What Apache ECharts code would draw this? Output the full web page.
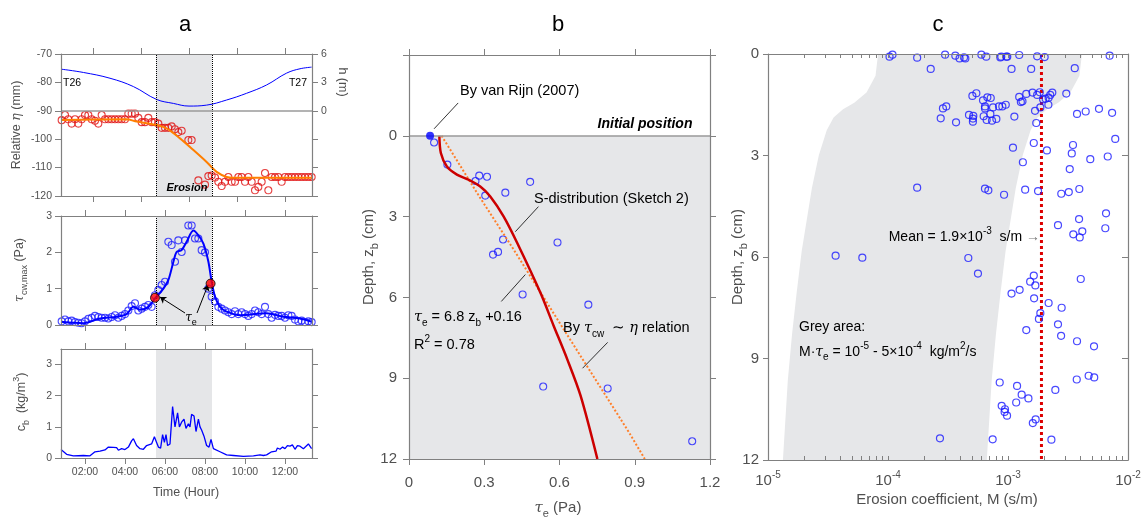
<!DOCTYPE html>
<html>
<head>
<meta charset="utf-8">
<script src="https://cdn.jsdelivr.net/npm/echarts@6.0.0/dist/echarts.min.js"></script>
<style>
html,body{margin:0;padding:0;background:#fff}
#chart{width:1143px;height:518px}
</style>
</head>
<body>
<div id="chart"></div>
<script>
// ---------- panel a : tide, bed level, bed shear stress, concentration ----------
// measurement grid: every 10 min from 00:50 (hours)
var tGrid = [];
for (var i = 0; i < 76; i++) tGrid.push((50 + 10 * i) / 60);

// water depth h (m)
var tideT = [0.8, 1.92, 3.25, 4.42, 5.58, 6.42, 7.2, 8.08, 9.08, 10.08, 11.08, 12.08, 12.75, 13.33];
var tideH = [4.40, 4.05, 3.44, 2.56, 1.20, 0.78, 0.50, 0.60, 1.14, 1.85, 2.73, 3.98, 4.44, 4.61];

// relative bed level eta (mm), null = no data
var etaVals = [-93.3,-91.5,-93,-94.5,-93,-94.5,-93,-91.5,-91.5,-93,
  -93.5,-94.5,-91.5,-93,-93,-93,-93,-93,-93,-93,
  -91,-91,-91,-92.5,-94,-94,-92.5,-94,-94,-94.5,
  -96,-96,-96,-95.5,-96.5,-97.5,-97,null,-100.3,-100.3,
  null,-114.5,null,-116,-113,-112.8,-113.5,-115,-116.5,-115,
  -113.3,-115,-115,-113.3,-113.3,-115,-113.3,-115,-118,-116.8,
  -115,-111.9,-118,-113.3,-113.3,-113.3,-115,-113.3,-113.3,-113.3,
  -113.3,-113.3,-113.3,-113.3,-113.3,-113.3];
// smoothed bed level (orange)
var etaFitT = [0.8, 4.08, 4.58, 5.58, 6.08, 6.75, 7.42, 8.08, 8.58, 9.08, 9.42, 13.33];
var etaFitV = [-93.2, -93, -93.8, -95, -96.2, -99.7, -103.8, -108, -111.5, -113.3, -113.6, -113.6];

// tau_cw,max (Pa)
var tauVals = [0.1,0.15,0.1,0.12,0.08,0.06,0.05,0.1,0.17,0.2,
  0.25,0.22,0.2,0.2,0.18,0.22,0.27,0.2,0.25,0.3,
  0.4,0.52,0.6,0.4,0.45,0.5,0.55,0.5,
  0.82,0.96,1.1,1.19,2.29,2.2,1.74,2.33,2.01,2.33,2.74,2.74,2.38,2.38,2.06,2.0,1.0,0.78,0.65,0.5,
  0.45,0.4,0.35,0.3,0.38,0.3,0.35,0.3,0.25,0.3,0.4,0.35,0.3,0.5,0.3,0.2,0.28,0.25,0.25,0.2,0.27,0.25,
  0.15,0.1,0.12,0.08,0.1,0.08];
var tauLineT = [0.8,1.92,2.75,3.58,4.08,4.42,4.75,5.17,5.5,5.92,6.17,6.42,6.58,6.83,7.08,7.42,7.67,7.92,8.17,8.33,8.5,8.75,9.08,9.75,11.08,11.92,12.75,13.33];
var tauLineV = [0.09,0.05,0.18,0.23,0.3,0.5,0.42,0.5,0.73,1.0,1.24,1.74,2.01,2.06,2.29,2.6,2.47,2.24,1.74,1.2,0.78,0.5,0.37,0.27,0.32,0.23,0.18,0.09];
var tauE_T = [5.5, 8.28];
var tauE_V = [0.75, 1.14];

// near-bed concentration c_b (kg/m3)
var cbT = [0.80,1.08,1.42,1.92,2.25,2.50,2.75,3.00,3.17,3.42,3.50,3.58,3.67,3.83,4.00,4.17,4.33,4.42,4.58,4.75,
  4.92,5.08,5.33,5.47,5.58,5.67,5.78,5.88,5.97,6.05,6.13,6.25,6.38,6.50,6.63,6.72,6.83,6.95,7.05,7.17,
  7.25,7.33,7.45,7.55,7.67,7.75,7.83,7.95,8.08,8.20,8.30,8.42,8.75,9.08,9.42,9.92,10.42,10.75,10.92,11.08,
  11.33,11.55,11.62,11.75,11.88,12.00,12.12,12.25,12.37,12.50,12.62,12.75,12.92,13.17,13.33];
var cbV = [.27,.12,.07,.08,.07,.2,.22,.26,.35,.34,.3,.33,.25,.3,.27,.35,.55,.62,.4,.3,
  .28,.4,.45,.68,.5,.35,.32,.75,.5,.75,.4,.45,1.65,1.0,1.45,1.0,1.15,1.25,.95,1.1,
  1.0,1.4,1.35,.85,1.25,1.0,.9,.7,.4,.35,.6,.3,.2,.1,.08,.05,.07,.1,.08,.1,
  .2,.22,.32,.28,.35,.3,.4,.38,.42,.28,.4,.38,.3,.45,.3];

var shadeStart = 5.55, shadeEnd = 8.35;

// ---------- panel b : critical shear stress vs depth ----------
var tauObs = [0.100,0.153,0.280,0.311,0.265,0.483,0.384,0.304,0.375,0.592,0.355,0.335,0.453,0.715,0.535,0.792,1.129];
var zObs   = [0.25,1.07,1.48,1.52,1.68,1.71,2.11,2.22,3.85,3.96,4.31,4.41,5.89,6.27,9.31,9.38,11.34];
var vanRijn = [0.084, 0];
// S-distribution (red)
var tauS = [0.121,0.127,0.151,0.191,0.237,0.284,0.324,0.377,0.431,0.524,0.577,0.631,0.684,0.751];
var zS   = [0,0.64,1.14,1.44,1.63,1.88,2.25,2.99,3.97,5.83,7.06,8.3,9.65,12];
// tau_cw ~ eta relation (orange dotted)
var tauLin = [0.13,0.28,0.417,0.617,0.877,0.94];
var zLin   = [0,2.25,4.22,7.19,11.01,12];

// ---------- panel c : erosion coefficient ----------
var Mobs = [1.03e-4,1.09e-4,1.75e-4,2.99e-4,3.64e-4,3.95e-4,4.30e-4,4.41e-4,6.0e-4,6.59e-4,
  8.63e-4,8.79e-4,9.68e-4,9.86e-4,1.24e-3,1.75e-3,2.02e-3,7.03e-3,2.27e-4,1.07e-3,
  1.56e-3,3.60e-3,5.45e-4,5.05e-4,6.73e-4,7.18e-4,6.19e-4,6.43e-4,6.43e-4,7.50e-4,
  8.41e-4,8.97e-4,9.58e-4,1.24e-3,1.32e-3,1.28e-3,1.42e-3,1.60e-3,1.75e-3,1.84e-3,
  1.96e-3,2.06e-3,2.18e-3,2.25e-3,2.34e-3,3.06e-3,1.86e-3,2.17e-3,1.68e-3,2.87e-4,
  3.06e-4,2.75e-4,3.69e-4,4.73e-4,5.14e-4,5.10e-4,5.10e-4,6.27e-4,6.64e-4,7.36e-4,
  8.0e-4,7.13e-4,1.13e-3,1.72e-3,3.76e-3,4.44e-3,5.73e-3,7.37e-3,7.83e-3,3.48e-3,
  3.40e-3,4.85e-3,6.78e-3,2.11e-3,1.64e-3,1.10e-3,1.33e-3,3.27e-3,1.75e-4,6.43e-4,
  6.86e-4,9.27e-4,1.39e-3,1.78e-3,2.78e-3,3.21e-3,3.93e-3,6.56e-3,3.91e-3,2.61e-3,
  6.47e-3,3.50e-3,4.16e-3,3.96e-3,3.66e-5,6.11e-5,4.67e-4,5.62e-4,1.64e-3,4.04e-3,
  1.53e-3,1.69e-3,1.25e-3,1.07e-3,1.65e-3,2.18e-3,2.80e-3,1.86e-3,1.81e-3,2.61e-3,
  1.42e-3,2.77e-3,3.76e-3,5.21e-3,3.74e-3,4.70e-3,5.23e-3,2.48e-3,8.53e-4,1.19e-3,
  1.30e-3,1.48e-3,1.17e-3,8.86e-4,9.44e-4,9.37e-4,9.82e-4,1.70e-3,1.61e-3,2.71e-4,
  7.45e-4,2.30e-3];
var zObsC = [0.08,0.02,0.11,0.02,0.05,0.13,0.10,0.13,0.02,0.08,
  0.10,0.08,0.08,0.08,0.03,0.07,0.09,0.05,0.44,0.44,
  0.44,0.42,1.16,1.24,1.28,1.30,1.37,1.55,1.61,1.58,
  1.55,1.55,1.50,1.27,1.40,1.42,1.18,1.14,1.21,1.13,
  1.34,1.32,1.29,1.21,1.14,1.17,1.58,1.50,1.68,1.61,
  1.55,1.90,2.02,1.80,1.83,1.91,2.00,1.84,1.95,1.97,
  1.92,1.77,1.85,2.04,1.77,1.70,1.62,1.74,2.51,2.69,
  2.94,3.11,3.03,2.85,2.63,2.77,3.20,3.40,3.95,3.98,
  4.03,4.16,4.01,4.05,4.13,4.08,3.99,4.71,4.88,5.06,
  5.15,5.33,5.24,5.42,5.96,6.02,6.03,6.49,6.55,6.65,
  6.73,6.84,6.97,7.08,7.22,7.36,7.50,7.66,7.83,7.99,
  8.16,8.33,8.49,8.64,9.62,9.51,9.56,9.93,9.71,9.81,
  10.07,10.18,10.30,10.40,10.50,10.58,10.69,10.80,10.91,11.36,
  11.39,11.40];
var Mmean = 1.9e-3;
// grey area bounds: M * tau_e between these values (kg/m2/s)
var fluxLow = 1e-5, fluxHigh = 5e-4;

var hourTicks = [2, 4, 6, 8, 10, 12];
var tideTicks = [2.4, 4.8, 7.2, 9.6, 12];
var logMajor = [1e-5, 1e-4, 1e-3, 1e-2];
var logAll = [];
[1e-5, 1e-4, 1e-3].forEach(function (d) { for (var k = 1; k <= 9; k++) logAll.push(k * d); });
logAll.push(1e-2);

// ---------- helpers ----------
var FONT = '"Liberation Sans", Arial, Helvetica, sans-serif';
var SERIF = '"DejaVu Serif", serif';
var AX = '#808080', LAB = '#505050', SHADE = '#e5e6e8';

function zip(a, b) { return a.map(function (v, i) { return [v, b[i]]; }); }

function axis(o) {
  var a = {
    type: 'value', z: 10, splitLine: { show: false },
    axisLine: { show: true, onZero: false, lineStyle: { color: AX, width: 1.2 } }
  };
  a.axisTick = Object.assign({ show: true, inside: false, length: 6, lineStyle: { color: AX, width: 1 } }, o.tick || {});
  a.axisLabel = Object.assign({ show: false, color: LAB, fontFamily: FONT, showMinLabel: true, showMaxLabel: true }, o.label || {});
  delete o.tick; delete o.label;
  return Object.assign(a, o);
}

function richFor(fs, c) {
  return {
    g: { fontFamily: SERIF, fontStyle: 'italic', fontSize: fs, fill: c, lineHeight: Math.round(fs * 1.5) },
    sub: { fontFamily: FONT, fontSize: Math.round(fs * 0.72), fill: c, verticalAlign: 'bottom', lineHeight: Math.round(fs * 0.9) },
    sup: { fontFamily: FONT, fontSize: Math.round(fs * 0.72), fill: c, verticalAlign: 'top', lineHeight: Math.round(fs * 0.9) },
    ar: { fontFamily: FONT, fontSize: fs, fill: '#777', lineHeight: Math.round(fs * 1.5) }
  };
}

function T(x, y, text, o) {
  o = o || {};
  var fs = o.fs || 14, c = o.color || '#000';
  return {
    type: 'text', x: x, y: y, rotation: o.rot || 0, z: 100, silent: true,
    style: {
      text: text, fill: c, fontSize: fs, fontFamily: FONT,
      fontWeight: o.weight || 'normal', fontStyle: o.style || 'normal',
      align: o.align || 'left', verticalAlign: 'middle',
      lineHeight: Math.round(fs * 1.5), rich: richFor(fs, c)
    }
  };
}

function timeFmt(v) { return (v < 10 ? '0' : '') + v + ':00'; }

var tMin = 0.8, tMax = 13.35;
var smallLab = { show: true, fontSize: 10.5, margin: 9 };
var bigLab = { show: true, fontSize: 15, margin: 12 };
var logLab = {
  show: true, margin: 10, customValues: logMajor,
  formatter: function (v) { return '{b|10}{s|' + Math.round(Math.log10(v)) + '}'; },
  rich: {
    b: { fontSize: 15, color: LAB, fontFamily: FONT, lineHeight: 22 },
    s: { fontSize: 10, color: LAB, fontFamily: FONT, verticalAlign: 'top', lineHeight: 11 }
  }
};

var option = {
  animation: false,
  backgroundColor: '#fff',
  textStyle: { fontFamily: FONT },
  grid: [
    { left: 61, top: 54, width: 251, height: 142, outerBoundsMode: 'none' },
    { left: 61, top: 216, width: 251, height: 109, outerBoundsMode: 'none' },
    { left: 61, top: 349, width: 251, height: 109, outerBoundsMode: 'none' },
    { left: 409, top: 55, width: 301, height: 404, outerBoundsMode: 'none' },
    { left: 768, top: 54, width: 360, height: 406, outerBoundsMode: 'none' }
  ],
  xAxis: [
    axis({ gridIndex: 0, position: 'bottom', min: tMin, max: tMax, tick: { customValues: tideTicks } }),
    axis({ gridIndex: 0, position: 'top', min: tMin, max: tMax, tick: { customValues: tideTicks } }),
    axis({ gridIndex: 1, position: 'bottom', min: tMin, max: tMax, tick: { customValues: hourTicks } }),
    axis({ gridIndex: 1, position: 'top', min: tMin, max: tMax, tick: { customValues: hourTicks } }),
    axis({ gridIndex: 2, position: 'bottom', min: tMin, max: tMax, tick: { customValues: hourTicks },
      label: Object.assign({}, smallLab, { customValues: hourTicks, formatter: timeFmt }) }),
    axis({ gridIndex: 2, position: 'top', min: tMin, max: tMax, tick: { customValues: hourTicks } }),
    axis({ gridIndex: 3, position: 'bottom', min: 0, max: 1.2, interval: 0.3,
      label: Object.assign({}, bigLab, { margin: 16, formatter: function (v) { return v === 0 ? '0' : v.toFixed(1); } }) }),
    axis({ gridIndex: 3, position: 'top', min: 0, max: 1.2, interval: 0.3 }),
    axis({ gridIndex: 4, type: 'log', logBase: 10, position: 'bottom', min: 1e-5, max: 1e-2,
      tick: { inside: true, length: 4, customValues: logAll }, label: logLab }),
    axis({ gridIndex: 4, type: 'log', logBase: 10, position: 'top', min: 1e-5, max: 1e-2,
      tick: { inside: true, length: 4, customValues: logAll } })
  ],
  yAxis: [
    axis({ gridIndex: 0, position: 'left', min: -120, max: -70, interval: 10, label: smallLab }),
    axis({ gridIndex: 0, position: 'right', min: -9, max: 6, interval: 3,
      label: Object.assign({}, smallLab, { formatter: function (v) { return v >= 0 ? String(v) : ''; } }) }),
    axis({ gridIndex: 1, position: 'left', min: 0, max: 3, interval: 1, label: smallLab }),
    axis({ gridIndex: 1, position: 'right', min: 0, max: 3, interval: 1 }),
    axis({ gridIndex: 2, position: 'left', min: 0, max: 3.5, tick: { customValues: [0, 1, 2, 3] },
      label: Object.assign({}, smallLab, { customValues: [0, 1, 2, 3] }) }),
    axis({ gridIndex: 2, position: 'right', min: 0, max: 3.5, tick: { customValues: [0, 1, 2, 3] } }),
    axis({ gridIndex: 3, position: 'left', min: -3, max: 12, interval: 3, inverse: true,
      label: Object.assign({}, bigLab, { formatter: function (v) { return v < 0 ? '' : String(v); } }) }),
    axis({ gridIndex: 3, position: 'right', min: -3, max: 12, interval: 3, inverse: true }),
    axis({ gridIndex: 4, position: 'left', min: 0, max: 12, interval: 3, inverse: true,
      tick: { length: 5 }, label: Object.assign({}, bigLab, { margin: 9 }) }),
    axis({ gridIndex: 4, position: 'right', min: 0, max: 12, interval: 3, inverse: true, tick: { inside: true, length: 6 } })
  ],
  series: [
    // --- a, top: tide
    {
      type: 'line', xAxisIndex: 0, yAxisIndex: 1, data: zip(tideT, tideH), smooth: 0.4,
      symbol: 'none', silent: true, lineStyle: { color: '#0000ff', width: 1 },
      markArea: { silent: true, itemStyle: { color: SHADE }, data: [[{ xAxis: shadeStart }, { xAxis: shadeEnd }]] }
    },
    {
      type: 'scatter', xAxisIndex: 0, yAxisIndex: 0, silent: true,
      data: zip(tGrid, etaVals).filter(function (p) { return p[1] !== null; }),
      symbol: 'circle', symbolSize: 7,
      itemStyle: { color: 'rgba(255,255,255,0)', borderColor: '#e01010', borderWidth: 1.1 }
    },
    {
      type: 'line', xAxisIndex: 0, yAxisIndex: 0, data: zip(etaFitT, etaFitV), smooth: 0.3,
      symbol: 'none', silent: true, lineStyle: { color: '#ff7f00', width: 2 },
      markLine: {
        silent: true, symbol: ['none', 'none'], label: { show: false },
        data: [
          { xAxis: shadeStart, lineStyle: { type: 'dotted', color: '#000', width: 1 } },
          { xAxis: shadeEnd, lineStyle: { type: 'dotted', color: '#000', width: 1 } },
          { yAxis: -90, lineStyle: { type: 'solid', color: '#9a9a9a', width: 1.5 } }
        ]
      }
    },
    // --- a, middle: tau_cw,max
    {
      type: 'scatter', xAxisIndex: 2, yAxisIndex: 2, silent: true, data: zip(tGrid, tauVals),
      symbol: 'circle', symbolSize: 7,
      itemStyle: { color: 'rgba(255,255,255,0)', borderColor: '#1a1aff', borderWidth: 1.1 },
      markArea: { silent: true, itemStyle: { color: SHADE }, data: [[{ xAxis: shadeStart }, { xAxis: shadeEnd }]] }
    },
    {
      type: 'line', xAxisIndex: 2, yAxisIndex: 2, data: zip(tauLineT, tauLineV), smooth: 0.3,
      symbol: 'none', silent: true, lineStyle: { color: '#0000ff', width: 2 },
      markLine: {
        silent: true, symbol: ['none', 'none'], label: { show: false },
        data: [
          { xAxis: shadeStart, lineStyle: { type: 'dotted', color: '#000', width: 1 } },
          { xAxis: shadeEnd, lineStyle: { type: 'dotted', color: '#000', width: 1 } }
        ]
      }
    },
    {
      type: 'scatter', xAxisIndex: 2, yAxisIndex: 2, silent: true, data: zip(tauE_T, tauE_V), z: 5,
      symbol: 'circle', symbolSize: 9, itemStyle: { color: '#ff0000', borderColor: '#000', borderWidth: 1 },
      markLine: {
        silent: true, symbol: ['none', 'arrow'], symbolSize: 6, label: { show: false },
        lineStyle: { type: 'solid', color: '#000', width: 1 },
        data: [
          [{ coord: [7.0, 0.33] }, { coord: [5.75, 0.77] }],
          [{ coord: [7.6, 0.33] }, { coord: [8.15, 1.1] }]
        ]
      }
    },
    // --- a, bottom: c_b
    {
      type: 'line', xAxisIndex: 4, yAxisIndex: 4, data: zip(cbT, cbV), symbol: 'none', silent: true,
      lineStyle: { color: '#0000ff', width: 1.3 },
      markArea: { silent: true, itemStyle: { color: SHADE }, data: [[{ xAxis: shadeStart }, { xAxis: shadeEnd }]] }
    },
    // --- b
    {
      type: 'line', xAxisIndex: 6, yAxisIndex: 6, data: zip(tauLin, zLin), symbol: 'none', silent: true,
      lineStyle: { color: '#ff7f2a', width: 2, type: 'dotted' },
      markArea: { silent: true, itemStyle: { color: '#e6e7e9' }, data: [[{ yAxis: 0 }, { yAxis: 12 }]] },
      markLine: {
        silent: true, symbol: ['none', 'none'], label: { show: false },
        lineStyle: { type: 'solid', color: '#000', width: 0.8 },
        data: [
          { yAxis: 0, lineStyle: { color: '#9a9a9a', width: 1.5, type: 'solid' } },
          [{ coord: [0.1, -0.26] }, { coord: [0.196, -1.22] }],
          [{ coord: [0.424, 3.56] }, { coord: [0.516, 2.63] }],
          [{ coord: [0.368, 6.15] }, { coord: [0.464, 5.15] }],
          [{ coord: [0.692, 8.63] }, { coord: [0.792, 7.67] }]
        ]
      }
    },
    {
      type: 'line', xAxisIndex: 6, yAxisIndex: 6, data: zip(tauS, zS), smooth: 0.3, symbol: 'none', silent: true,
      lineStyle: { color: '#cc0000', width: 2.5 }
    },
    {
      type: 'scatter', xAxisIndex: 6, yAxisIndex: 6, data: zip(tauObs, zObs), silent: true,
      symbol: 'circle', symbolSize: 7,
      itemStyle: { color: 'rgba(255,255,255,0)', borderColor: '#1a1aff', borderWidth: 1.1 }
    },
    {
      type: 'scatter', xAxisIndex: 6, yAxisIndex: 6, data: [vanRijn], silent: true, z: 5,
      symbol: 'circle', symbolSize: 8, itemStyle: { color: '#0000ff' }
    },
    // --- c
    {
      type: 'custom', xAxisIndex: 8, yAxisIndex: 8, data: [[1e-3, 6]], clip: true, silent: true, z: 1,
      renderItem: function (params, api) {
        var pts = [];
        for (var k = 0; k < zS.length; k++) pts.push(api.coord([fluxLow / tauS[k], zS[k]]));
        for (var k2 = zS.length - 1; k2 >= 0; k2--) pts.push(api.coord([fluxHigh / tauS[k2], zS[k2]]));
        return { type: 'polygon', shape: { points: pts }, style: { fill: '#e6e7e9' } };
      }
    },
    {
      type: 'line', xAxisIndex: 8, yAxisIndex: 8, data: [[Mmean, 0], [Mmean, 12]], symbol: 'none', silent: true,
      lineStyle: { type: 'dotted', color: '#dd0000', width: 3 }
    },
    {
      type: 'scatter', xAxisIndex: 8, yAxisIndex: 8, data: zip(Mobs, zObsC), silent: true, z: 4,
      symbol: 'circle', symbolSize: 7,
      itemStyle: { color: 'rgba(255,255,255,0)', borderColor: '#1a1aff', borderWidth: 1.2 }
    }
  ],
  graphic: [
    T(185, 25, 'a', { fs: 22, align: 'center' }),
    T(558, 25, 'b', { fs: 22, align: 'center' }),
    T(938, 25, 'c', { fs: 22, align: 'center' }),
    // panel a
    T(17, 125, 'Relative {g|η} (mm)', { fs: 12.5, rot: Math.PI / 2, align: 'center', color: LAB }),
    T(342, 82, 'h (m)', { fs: 12.5, rot: -Math.PI / 2, align: 'center', color: LAB }),
    T(20, 270, '{g|τ}{sub|cw,max} (Pa)', { fs: 12.5, rot: Math.PI / 2, align: 'center', color: LAB }),
    T(22, 402, 'c{sub|b}  (kg/m{sup|3})', { fs: 12.5, rot: Math.PI / 2, align: 'center', color: LAB }),
    T(186, 493, 'Time (Hour)', { fs: 12.5, align: 'center', color: LAB }),
    T(63, 83, 'T26', { fs: 10.5 }),
    T(307, 83, 'T27', { fs: 10.5, align: 'right' }),
    T(187, 188, 'Erosion', { fs: 11, weight: 'bold', style: 'italic', align: 'center' }),
    T(191, 318, '{g|τ}{sub|e}', { fs: 12, align: 'center' }),
    // panel b
    T(460, 91, 'By van Rijn (2007)', { fs: 14.5 }),
    T(645, 124, 'Initial position', { fs: 14, weight: 'bold', style: 'italic', align: 'center' }),
    T(534, 199, 'S-distribution (Sketch 2)', { fs: 14.5 }),
    T(414, 317, '{g|τ}{sub|e} = 6.8 z{sub|b} +0.16', { fs: 14.5 }),
    T(414, 345, 'R{sup|2} = 0.78', { fs: 14.5 }),
    T(563, 328, 'By {g|τ}{sub|cw}  ∼ {g|η} relation', { fs: 14.5 }),
    T(369, 257, 'Depth, z{sub|b} (cm)', { fs: 15, rot: Math.PI / 2, align: 'center', color: LAB }),
    T(558, 508, '{g|τ}{sub|e} (Pa)', { fs: 15, align: 'center', color: LAB }),
    // panel c
    T(738, 257, 'Depth, z{sub|b} (cm)', { fs: 15, rot: Math.PI / 2, align: 'center', color: LAB }),
    T(947, 500, 'Erosion coefficient, M (s/m)', { fs: 15, align: 'center', color: LAB }),
    T(1040, 237, 'Mean = 1.9×10{sup|-3}  s/m {ar|→}', { fs: 14, align: 'right' }),
    T(799, 327, 'Grey area:', { fs: 14 }),
    T(799, 352, 'M·{g|τ}{sub|e} = 10{sup|-5} - 5×10{sup|-4}  kg/m{sup|2}/s', { fs: 14 })
  ]
};

var chart = echarts.init(document.getElementById('chart'));
chart.setOption(option);
</script>
</body>
</html>
